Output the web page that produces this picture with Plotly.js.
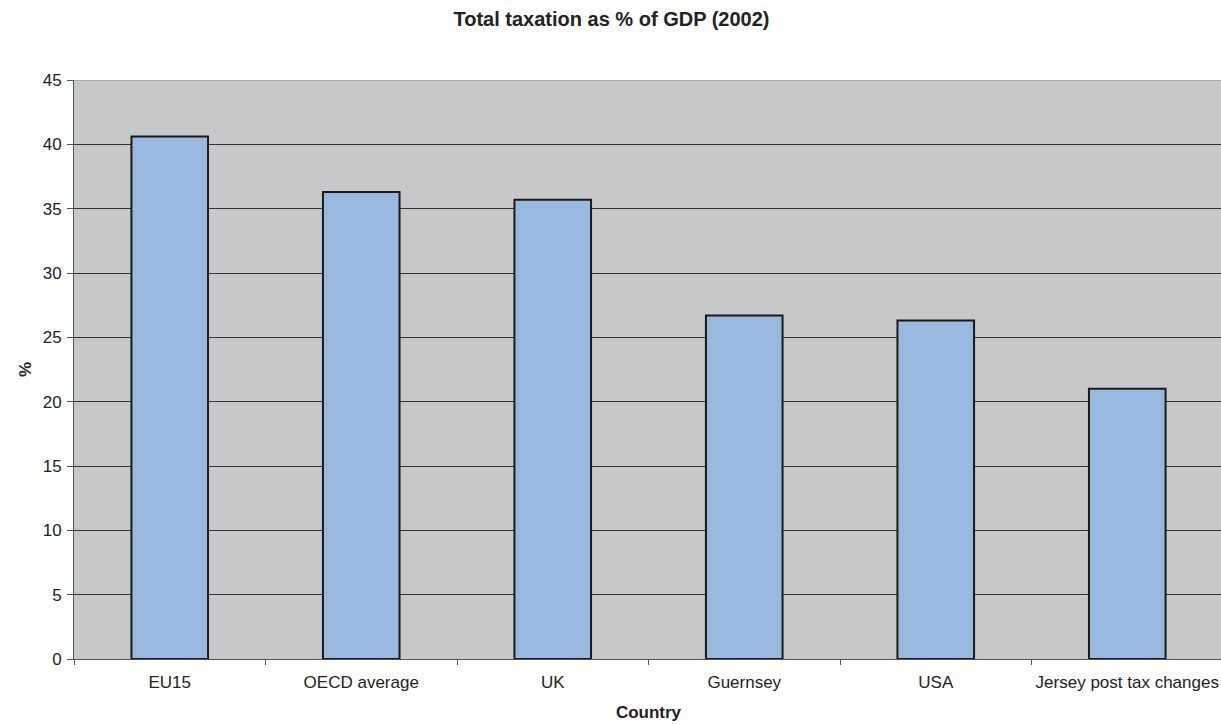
<!DOCTYPE html>
<html><head><meta charset="utf-8">
<script src="https://cdn.plot.ly/plotly-3.0.1.min.js"></script>
<style>html,body{margin:0;padding:0;overflow:hidden;background:#fff}</style>
</head><body>
<div id="chart" style="width:1223px;height:724px"></div>
<script>
const categories = ["EU15", "OECD average", "UK", "Guernsey", "USA", "Jersey post tax changes"];
const values = [40.6, 36.3, 35.7, 26.7, 26.3, 21.0];
const yTicks = [0, 5, 10, 15, 20, 25, 30, 35, 40, 45];

const trace = {
  type: "bar",
  x: categories,
  y: values,
  width: 0.4,
  marker: {color: "#99b8e0", line: {color: "#1a1a1a", width: 2}},
  hoverinfo: "x+y"
};

const layout = {
  width: 1223, height: 724,
  margin: {l: 74, r: 0, t: 80, b: 65},
  paper_bgcolor: "#ffffff",
  plot_bgcolor: "#c7c8ca",
  font: {family: "Liberation Sans, Arial, sans-serif", size: 17, color: "#222"},
  title: {text: "<b>Total taxation as % of GDP (2002)</b>", x: 0.5, xanchor: "center", y: 0.974, yanchor: "middle",
          font: {size: 20, color: "#222"}},
  bargap: 0.6,
  showlegend: false,
  xaxis: {
    type: "category",
    automargin: false,
    tickangle: 0,
    showline: true, linecolor: "#555", linewidth: 1,
    ticks: "outside", ticklen: 5, tickcolor: "#555", tickson: "boundaries",
    ticklabelstandoff: 8,
    showgrid: false,
    tickfont: {size: 17, color: "#222"},
    title: {text: "<b>Country</b>", font: {size: 17, color: "#222"}, standoff: 14}
  },
  yaxis: {
    automargin: false,
    range: [0, 45],
    tickvals: yTicks,
    showline: true, linecolor: "#555", linewidth: 1,
    ticks: "outside", ticklen: 6, tickcolor: "#555",
    ticklabelstandoff: 2,
    showgrid: true, gridcolor: "#333", gridwidth: 1,
    zeroline: false,
    tickfont: {size: 17, color: "#222"},
    title: {text: "<b>%</b>", font: {size: 17, color: "#222"}, standoff: 6}
  },
  shapes: [{type: "line", xref: "paper", yref: "y", x0: 0, x1: 1, y0: 45, y1: 45, line: {color: "#888", width: 1}}]
};

Plotly.newPlot("chart", [trace], layout, {displayModeBar: false, staticPlot: true});
</script>
</body></html>
